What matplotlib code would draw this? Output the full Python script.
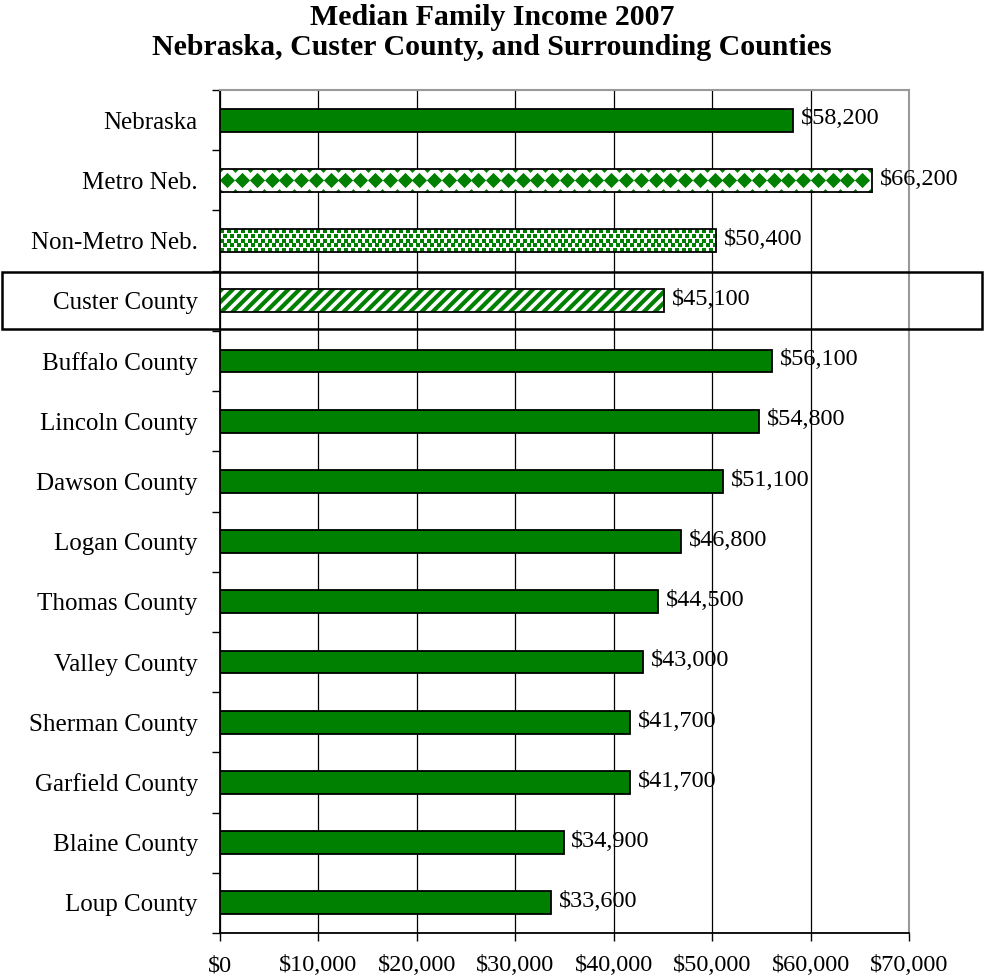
import matplotlib
matplotlib.use("Agg")
import matplotlib.pyplot as plt
import numpy as np
from matplotlib.patches import Rectangle
import matplotlib.transforms as mtransforms

plt.rcParams['font.family'] = ['Liberation Serif', 'DejaVu Serif']

categories = ["Nebraska", "Metro Neb.", "Non-Metro Neb.", "Custer County",
              "Buffalo County", "Lincoln County", "Dawson County", "Logan County",
              "Thomas County", "Valley County", "Sherman County", "Garfield County",
              "Blaine County", "Loup County"]
values = [58200, 66200, 50400, 45100, 56100, 54800, 51100, 46800,
          44500, 43000, 41700, 41700, 34900, 33600]
xticks = [0, 10000, 20000, 30000, 40000, 50000, 60000, 70000]
xticklabels = ["$0", "$10,000", "$20,000", "$30,000", "$40,000", "$50,000", "$60,000", "$70,000"]
title_lines = ["Median Family Income 2007",
               "Nebraska, Custer County, and Surrounding Counties"]

GREEN = "#008000"
FS_Y = 18
FS = 17.5

fig = plt.figure(figsize=(9.84, 9.80), dpi=100)
ax = fig.add_axes([220/984, 47/980, 689/984, 843/980])

n = len(categories)
ypos = np.arange(n)
bh = 0.38
styles = {1: "diamond", 2: "dots", 3: "stripes"}

for i, (y, v) in enumerate(zip(ypos, values)):
    st = styles.get(i)
    if st is None:
        ax.barh(y, v, height=bh, color=GREEN, edgecolor="black", linewidth=1.3, zorder=3)
    else:
        if st == "dots":
            bars = ax.barh(y, v, height=bh, color="white", edgecolor="none",
                           linewidth=0, zorder=3)
            for k, dy in enumerate(np.arange(-0.16, 0.17, 0.08)):
                xs = np.arange(200 + (k % 2) * 350, v, 700)
                sc = ax.scatter(xs, np.full(len(xs), y + dy), marker="s", s=5,
                                color=GREEN, linewidths=0, zorder=4)
                sc.set_clip_path(bars[0])
        elif st == "stripes":
            plt.rcParams['hatch.linewidth'] = 3.0
            ax.barh(y, v, height=bh, color="white", edgecolor=GREEN, hatch="///",
                    linewidth=0, zorder=3)
        else:
            bars = ax.barh(y, v, height=bh, color="white", edgecolor="none",
                           linewidth=0, zorder=3)
            xs = np.arange(750, v, 1500)
            sc = ax.scatter(xs, np.full(len(xs), y), marker="D", s=60, color=GREEN,
                            linewidths=0, zorder=4)
            sc.set_clip_path(bars[0])
            xs2 = np.arange(0, v + 1, 1500)
            for yy in (y - bh / 2, y + bh / 2):
                sc2 = ax.scatter(xs2, np.full(len(xs2), yy), marker="D", s=12, color=GREEN,
                                 linewidths=0, zorder=4)
                sc2.set_clip_path(bars[0])
        ax.barh(y, v, height=bh, color="none", edgecolor="black", linewidth=1.3, zorder=5)
    ax.text(v + 800, y - 0.02, "${:,}".format(v), va="center", ha="left", fontsize=FS, zorder=6)

ax.set_xlim(0, 70000)
ax.set_ylim(n - 0.5, -0.5)
ax.set_xticks(xticks)
ax.set_xticklabels(xticklabels, fontsize=FS)
ax.set_yticks(ypos)
ax.set_yticklabels(categories, fontsize=FS_Y)
ax.set_yticks(np.arange(-0.5, n, 1.0), minor=True)
ax.tick_params(axis="y", which="major", length=0, pad=16)
ax.tick_params(axis="y", which="minor", length=6, width=1, direction="out")
ax.tick_params(axis="x", which="major", length=6, width=1, direction="out", pad=10)
ax.xaxis.grid(True, color="black", linewidth=0.9, zorder=0)
ax.set_axisbelow(True)
for s in ["top", "right"]:
    ax.spines[s].set_color("#999999")
    ax.spines[s].set_linewidth(1.5)
for s in ["left", "bottom"]:
    ax.spines[s].set_color("black")
    ax.spines[s].set_linewidth(1.3)

# highlight box around Custer County
trans = mtransforms.blended_transform_factory(fig.transFigure, ax.transData)
ci = categories.index("Custer County")
box = Rectangle((0.002, ci - 0.47), 0.996, 0.94, transform=trans, fill=False,
                edgecolor="black", linewidth=1.8, clip_on=False, zorder=10)
fig.add_artist(box)

fig.text(0.5, 1 - 25/980, title_lines[0], ha="center", va="baseline", fontsize=21.5,
         fontweight="bold")
fig.text(0.5, 1 - 55/980, title_lines[1], ha="center", va="baseline", fontsize=21.5,
         fontweight="bold")

fig.savefig("out.png", dpi=100)
